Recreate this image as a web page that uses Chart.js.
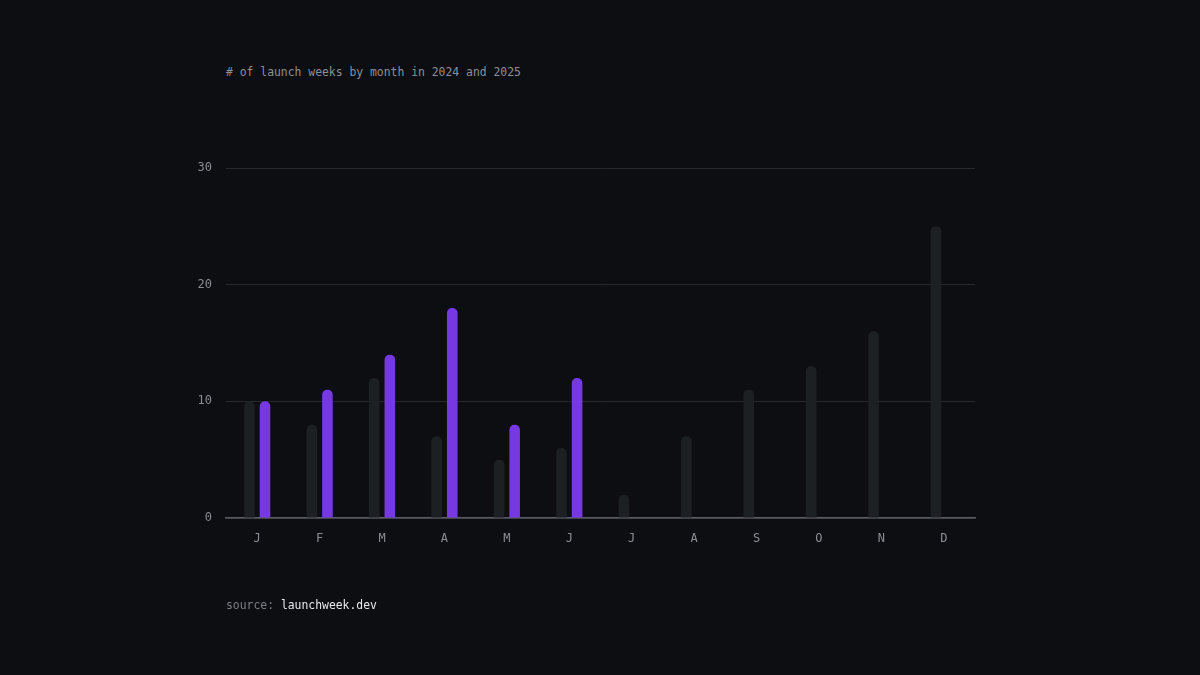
<!DOCTYPE html>
<html>
<head>
<meta charset="utf-8">
<script src="https://cdn.jsdelivr.net/npm/chart.js@4"></script>
<style>
  html, body { margin: 0; padding: 0; background: #0d0e12; }
  body { width: 1200px; height: 675px; position: relative; overflow: hidden; font-family: "DejaVu Sans Mono", monospace; }
  #wrap { position: absolute; left: 0; top: 0; width: 1200px; height: 675px; }
  .title { position: absolute; left: 226px; top: 65px; font-size: 11.4px; color: #8c8e95; white-space: pre; }
  .source { position: absolute; left: 226px; top: 598px; font-size: 11.4px; color: #7d7f86; white-space: pre; }
  .source b { font-weight: normal; color: #e8e8ea; }
</style>
</head>
<body>
<div class="title"># of launch weeks by month in 2024 and 2025</div>
<div id="wrap"><canvas id="chart"></canvas></div>
<div class="source">source: <b>launchweek.dev</b></div>
<script>
// Datos del gráfico
const months = ['J', 'F', 'M', 'A', 'M', 'J', 'J', 'A', 'S', 'O', 'N', 'D'];
const weeks2024 = [10, 8, 12, 7, 5, 6, 2, 7, 11, 13, 16, 25];
const weeks2025 = [10, 11, 14, 18, 8, 12, null, null, null, null, null, null];
const yTicks = [0, 10, 20, 30];

const ctx = document.getElementById('chart').getContext('2d');
const chart = new Chart(ctx, {
    type: 'bar',
    data: {
        labels: months,
        datasets: [{
            label: '2024',
            data: weeks2024,
            backgroundColor: '#1c2023',
            borderRadius: { topLeft: 5, topRight: 5 },
            borderSkipped: 'start',
            categoryPercentage: 0.5,
            barPercentage: 0.68
        }, {
            label: '2025',
            data: weeks2025,
            backgroundColor: '#7638e0',
            borderRadius: { topLeft: 5, topRight: 5 },
            borderSkipped: 'start',
            categoryPercentage: 0.5,
            barPercentage: 0.68
        }]
    },
    options: {
        responsive: true,
        maintainAspectRatio: false,
        animation: false,
        layout: {
            padding: { left: 180, right: 225, top: 168, bottom: 117 }
        },
        plugins: {
            legend: { display: false },
            tooltip: { enabled: false }
        },
        scales: {
            x: {
                grid: { display: false, drawTicks: false },
                border: { display: true, color: '#5b5d64', width: 1.5 },
                ticks: {
                    color: '#8a8c93',
                    padding: 14,
                    font: { family: 'DejaVu Sans Mono', size: 12 }
                },
                afterFit: (scale) => { scale.height = 40; }
            },
            y: {
                min: 0,
                max: 30,
                afterBuildTicks: (scale) => { scale.ticks = yTicks.map(v => ({ value: v })); },
                grid: { color: '#26282d', drawTicks: false, lineWidth: 1 },
                border: { display: false },
                ticks: {
                    color: '#8a8c93',
                    padding: 14,
                    font: { family: 'DejaVu Sans Mono', size: 12 }
                },
                afterFit: (scale) => { scale.width = 46; }
            }
        }
    }
});
</script>
</body>
</html>
